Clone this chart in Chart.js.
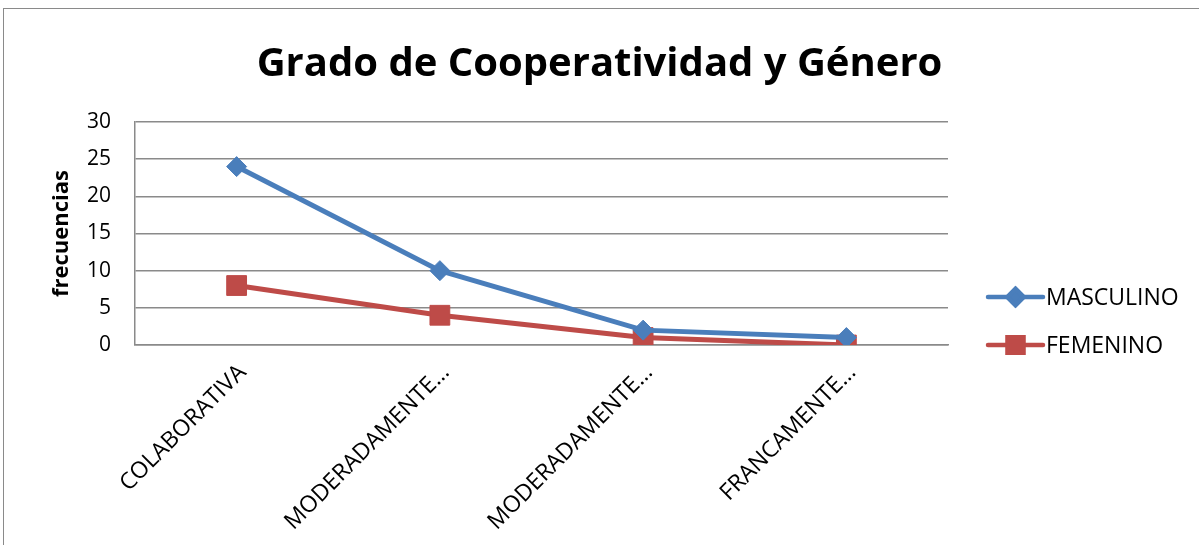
<!DOCTYPE html>
<html>
<head>
<meta charset="utf-8">
<script src="https://cdn.jsdelivr.net/npm/chart.js@4"></script>
<style>
  html, body { margin: 0; padding: 0; background: #fff; overflow: hidden; }
  .frame { position: absolute; left: 3px; top: 8px; width: 1400px; height: 700px; border: 1.5px solid #8a8a8a; }
  .wrap { position: absolute; left: 0; top: 0; width: 1199px; height: 545px; }
</style>
</head>
<body>
<div class="frame"></div>
<div class="wrap"><canvas id="chart" width="1199" height="545"></canvas></div>
<script>
// ══ data ══
const categories = ['COLABORATIVA', 'MODERADAMENTE…', 'MODERADAMENTE…', 'FRANCAMENTE…'];
const masculino  = [24, 10, 2, 1];
const femenino   = [8, 4, 1, 0];
const yTicks     = [0, 5, 10, 15, 20, 25, 30];

const FONT = "'Open Sans', sans-serif";
const BLUE = '#4a7ebb';
const RED  = '#be4b48';
const GRID = '#8a8a8a';

// legend with a line through the marker, drawn to the right of the plot
const lineLegend = {
  id: 'lineLegend',
  afterDraw(chart) {
    const ctx = chart.ctx;
    const area = chart.chartArea;
    const x0 = area.right + 40, x1 = x0 + 55;
    chart.data.datasets.forEach((ds, i) => {
      const y = area.top + 175 + i * 48;
      ctx.save();
      ctx.strokeStyle = ds.borderColor;
      ctx.lineWidth = 4.5;
      ctx.lineCap = 'round';
      ctx.beginPath(); ctx.moveTo(x0, y); ctx.lineTo(x1, y); ctx.stroke();
      Chart.helpers.drawPoint(ctx, {
        pointStyle: ds.pointStyle,
        radius: ds.pointStyle === 'rect' ? 11 : 8,
        rotation: 0,
        borderWidth: 1
      }, (x0 + x1) / 2, y);
      ctx.fillStyle = ds.backgroundColor;
      ctx.strokeStyle = ds.backgroundColor;
      ctx.fill(); ctx.stroke();
      ctx.fillStyle = '#000';
      ctx.font = '23px ' + FONT;
      ctx.textBaseline = 'middle';
      ctx.fillText(ds.label, x1 + 3, y + 1);
      ctx.restore();
    });
  }
};

new Chart(document.getElementById('chart'), {
  type: 'line',
  data: {
    labels: categories,
    datasets: [
      { label: 'MASCULINO', data: masculino, borderColor: BLUE, backgroundColor: BLUE,
        pointStyle: 'rectRot', pointRadius: 10, pointBorderWidth: 1, borderWidth: 5, tension: 0 },
      { label: 'FEMENINO', data: femenino, borderColor: RED, backgroundColor: RED,
        pointStyle: 'rect', pointRadius: 14, pointBorderWidth: 1, borderWidth: 5, tension: 0 }
    ]
  },
  options: {
    responsive: false,
    animation: false,
    layout: { padding: 0 },
    plugins: {
      legend: { display: false },
      tooltip: { enabled: false },
      title: {
        display: true,
        text: 'Grado de Cooperatividad y Género',
        color: '#000',
        font: { family: FONT, size: 40, weight: 'bold', lineHeight: 1.2 },
        padding: { top: 41, bottom: 33 }
      }
    },
    scales: {
      x: {
        offset: true,
        grid: { display: false, drawTicks: false },
        border: { display: true, color: GRID, width: 1.5 },
        ticks: { color: '#000', font: { family: FONT, size: 23 }, maxRotation: 45, minRotation: 45, padding: 14, labelOffset: 6, autoSkip: false },
        afterFit: s => { s.height = 200; }
      },
      y: {
        min: 0, max: 30,
        afterBuildTicks: s => { s.ticks = yTicks.map(v => ({ value: v })); },
        grid: { color: GRID, lineWidth: 1.5, drawTicks: false },
        border: { display: true, color: GRID, width: 1.5 },
        ticks: { color: '#000', font: { family: FONT, size: 21 }, padding: 24 },
        title: { display: true, text: 'frecuencias', color: '#000', font: { family: FONT, size: 22, weight: 'bold' }, padding: { top: 49, bottom: 0 } },
        afterFit: s => { s.width = 135; }
      },
      legendSpace: {
        position: 'right',
        display: true,
        grid: { display: false, drawTicks: false },
        border: { display: false },
        ticks: { display: false },
        afterFit: s => { s.width = 251; }
      }
    }
  },
  plugins: [lineLegend]
});
</script>
</body>
</html>
